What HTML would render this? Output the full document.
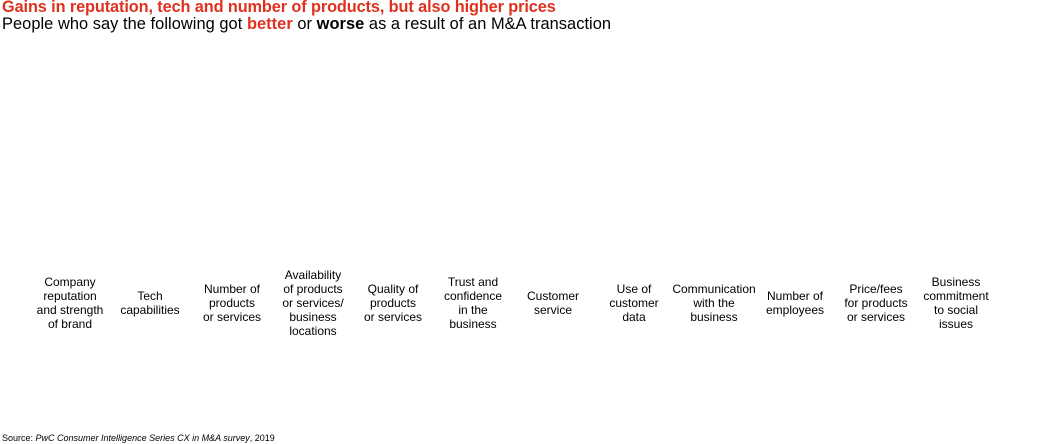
<!DOCTYPE html>
<html><head><style>
body{margin:0;width:1040px;height:444px;background:#fff;font-family:"Liberation Sans",Arial,sans-serif;position:relative;overflow:hidden;color:#000}
.t{position:absolute;left:2px;top:-2px;font-size:16.3px;font-weight:bold;color:#e0301e;white-space:nowrap;letter-spacing:-0.1px}
.s{position:absolute;left:2px;top:15px;font-size:16.4px;white-space:nowrap;letter-spacing:0.05px}
.r{color:#e0301e;font-weight:bold}
.l{position:absolute;width:100px;margin-left:-50px;text-align:center;font-size:12px;line-height:14px;top:303px;transform:translateY(-50%)}
.src{position:absolute;left:2px;top:433px;font-size:9px;white-space:nowrap}
</style></head><body>
<div class="t">Gains in reputation, tech and number of products, but also higher prices</div>
<div class="s">People who say the following got <span class="r">better</span> or <b>worse</b> as a result of an M&amp;A transaction</div>
<div class="l" style="left:70px">Company<br>reputation<br>and strength<br>of brand</div>
<div class="l" style="left:150px">Tech<br>capabilities</div>
<div class="l" style="left:232px">Number of<br>products<br>or services</div>
<div class="l" style="left:313px">Availability<br>of products<br>or services/<br>business<br>locations</div>
<div class="l" style="left:393px">Quality of<br>products<br>or services</div>
<div class="l" style="left:473px">Trust and<br>confidence<br>in the<br>business</div>
<div class="l" style="left:553px">Customer<br>service</div>
<div class="l" style="left:634px">Use of<br>customer<br>data</div>
<div class="l" style="left:714px">Communication<br>with the<br>business</div>
<div class="l" style="left:795px">Number of<br>employees</div>
<div class="l" style="left:876px">Price/fees<br>for products<br>or services</div>
<div class="l" style="left:956px">Business<br>commitment<br>to social<br>issues</div>
<div class="src">Source: <i>PwC Consumer Intelligence Series CX in M&amp;A survey</i>, 2019</div>
</body></html>
